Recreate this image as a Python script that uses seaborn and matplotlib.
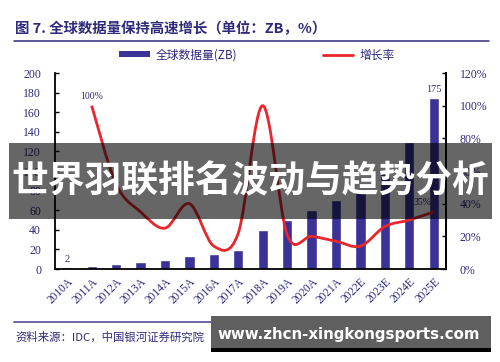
import numpy as np
import pandas as pd
import matplotlib
matplotlib.use("Agg")
import matplotlib.pyplot as plt
import seaborn as sns
from matplotlib.path import Path
from matplotlib.patches import PathPatch, Rectangle
from matplotlib.lines import Line2D
from matplotlib.ticker import FuncFormatter

# ---------------- data ----------------
years = ["2010A", "2011A", "2012A", "2013A", "2014A", "2015A", "2016A", "2017A",
         "2018A", "2019A", "2020A", "2021A", "2022E", "2023E", "2024E", "2025E"]
data_zb = [2, 3.4, 5.3, 7.3, 9.2, 13, 15, 19.5, 40, 50, 60, 70, 80, 101, 130, 175]
growth_years = years[1:]
growth_pct = [100, 52, 35, 25, 40, 14, 22, 100, 21, 20, 17, 14, 26, 30, 35]
left_ticks = [0, 20, 40, 60, 80, 100, 120, 140, 160, 180, 200]
right_ticks = [0, 20, 40, 60, 80, 100, 120]

title = "图 7. 全球数据量保持高速增长（单位：ZB，%）"
bar_name = "全球数据量(ZB)"
line_name = "增长率"
source = "资料来源：IDC，中国银河证券研究院"
banner = "世界羽联排名波动与趋势分析"
watermark = "www.zhcn-xingkongsports.com"

# ---------------- style ----------------
sns.set_style("white")
plt.rcParams["font.family"] = ["Noto Sans CJK SC", "DejaVu Sans"]

NAVY = "#2e2a7c"
BAR = "#3b3297"
RED = "#e8262c"
W, H = 500, 362

fig = plt.figure(figsize=(W / 100, H / 100), dpi=100)
fig.patch.set_facecolor("white")

def fx(x):
    return x / W

def fy(y):
    return 1 - y / H

ax = fig.add_axes([fx(55), fy(269), fx(446) - fx(55), fy(73) - fy(269)])
df = pd.DataFrame({"year": years, "zb": data_zb})
sns.barplot(data=df, x="year", y="zb", color=BAR, saturation=1, width=0.42,
            ax=ax, zorder=2)
ax.set_xlim(-0.5, len(years) - 0.5)
ax.set_ylim(0, 200)
ax.set_xlabel("")
ax.set_ylabel("")
ax.set_yticks(left_ticks)
ax.set_yticklabels([str(t) for t in left_ticks])

ax.spines["top"].set_visible(False)
for s in ["left", "bottom", "right"]:
    ax.spines[s].set_color("black")
    ax.spines[s].set_linewidth(1.3)

tick_font = {"family": ["Liberation Serif"], "size": 8.3}
ax.set_xticks(range(len(years)))
ax.set_xticklabels(years, rotation=45, ha="right", rotation_mode="anchor",
                   color=NAVY, fontdict=tick_font)
ax.set_xticks(np.arange(-0.5, len(years), 1), minor=True)
ax.tick_params(axis="x", which="major", length=0, pad=5)
ax.tick_params(axis="x", which="minor", direction="in", length=3, width=1, color="black")
ax.tick_params(axis="y", direction="in", length=3, width=1, color="black", pad=10,
               labelcolor=NAVY)
for lab in ax.get_yticklabels():
    lab.set_fontfamily(["Liberation Serif"])
    lab.set_fontsize(8.5)

# bar data labels
ax.text(0, data_zb[0] + 3, "2", ha="center", va="bottom", color=NAVY,
        fontfamily=["Liberation Serif"], fontsize=7.5)
ax.text(len(years) - 1, data_zb[-1] + 4, "175", ha="center", va="bottom", color=NAVY,
        fontfamily=["Liberation Serif"], fontsize=7.5)

# ---------------- growth line (smoothed) ----------------
ax2 = ax.twinx()
ax2.set_ylim(0, 120)
ax2.set_yticks(right_ticks)
ax2.yaxis.set_major_formatter(FuncFormatter(lambda v, p: f"{int(v)}%"))
ax2.tick_params(axis="y", direction="in", length=3, width=1, color="black", pad=10,
                labelcolor=NAVY)
for lab in ax2.get_yticklabels():
    lab.set_fontfamily(["Liberation Serif"])
    lab.set_fontsize(8.5)
for s in ["top", "left", "bottom"]:
    ax2.spines[s].set_visible(False)
ax2.spines["right"].set_color("black")
ax2.spines["right"].set_linewidth(1.3)
ax2.grid(False)
ax.grid(False)

gx = [years.index(g) for g in growth_years]
gy = growth_pct
n = len(gx)
verts = [(gx[0], gy[0])]
codes = [Path.MOVETO]
for i in range(n - 1):
    xa, ya = (gx[i - 1], gy[i - 1]) if i > 0 else (gx[i], gy[i])
    xb, yb = gx[i], gy[i]
    xc, yc = gx[i + 1], gy[i + 1]
    xd, yd = (gx[i + 2], gy[i + 2]) if i + 2 < n else (xc, yc)
    c1 = (xb + (xc - xa) / 6, yb + (yc - ya) / 6)
    c2 = (xc - (xd - xb) / 6, yc - (yd - yb) / 6)
    verts += [c1, c2, (xc, yc)]
    codes += [Path.CURVE4] * 3
ax2.add_patch(PathPatch(Path(verts, codes), facecolor="none", edgecolor=RED,
                        lw=2, zorder=3))
ax2.text(gx[0], gy[0] + 3, "100%", ha="center", va="bottom", color=NAVY,
         fontfamily=["Liberation Serif"], fontsize=7)
ax2.text(gx[-1] - 0.45, gy[-1] + 3, "35%", ha="center", va="bottom", color=NAVY,
         fontfamily=["Liberation Serif"], fontsize=7)

# ---------------- legend ----------------
handles = [Rectangle((0, 0), 1, 1, facecolor=BAR, edgecolor="none"),
           Line2D([0], [0], color=RED, lw=2)]
leg = fig.legend(handles, [bar_name, line_name], loc="center",
                 bbox_to_anchor=(fx(257), fy(55)), ncol=2, frameon=False,
                 fontsize=8.5, handlelength=2.6, handleheight=0.45,
                 handletextpad=0.5, columnspacing=7.2, labelcolor=NAVY)

# ---------------- title, rules, source ----------------
fig.text(fx(15), fy(29), title, ha="left", va="center", color=NAVY,
         fontsize=10.4, fontweight="bold")
fig.add_artist(Line2D([fx(14), fx(489)], [fy(41), fy(41)], color=NAVY, lw=1.1))
fig.add_artist(Line2D([fx(14), fx(489)], [fy(322), fy(322)], color="#6e66a8", lw=1.4))
fig.text(fx(15), fy(337), source, ha="left", va="center", color=NAVY,
         fontsize=8.2, style="italic")

# ---------------- overlay banner & watermark ----------------
fig.add_artist(Rectangle((fx(9), fy(219)), fx(492) - fx(9), fy(143) - fy(219),
                         transform=fig.transFigure, facecolor="black", alpha=0.6,
                         edgecolor="none", zorder=10))
fig.text(fx(250), fy(182), banner, ha="center", va="center", color="white",
         fontsize=26.5, fontweight="bold", zorder=11)

fig.add_artist(Rectangle((fx(211), fy(352)), fx(491) - fx(211), fy(316) - fy(352),
                         transform=fig.transFigure, facecolor="#5f5f5f",
                         edgecolor="none", zorder=10))
fig.add_artist(Rectangle((fx(211), fy(352)), fx(491) - fx(211), fy(348) - fy(352),
                         transform=fig.transFigure, facecolor="black",
                         edgecolor="none", zorder=10))
fig.text(fx(349), fy(334), watermark, ha="center", va="center", color="white",
         fontsize=10.8, fontweight="bold", fontfamily=["DejaVu Sans"], zorder=11)

fig.savefig("out.png", dpi=100, facecolor="white")
